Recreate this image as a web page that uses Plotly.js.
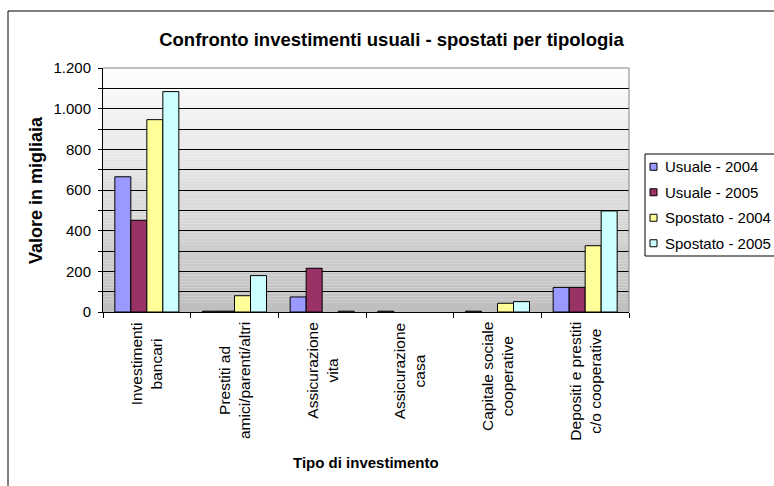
<!DOCTYPE html>
<html>
<head>
<meta charset="utf-8">
<script src="https://cdn.plot.ly/plotly-3.0.1.min.js"></script>
<style>
html,body{margin:0;padding:0;background:#fff;}
#chart{width:774px;height:486px;}
</style>
</head>
<body>
<div id="chart"></div>
<script>
// ---- data ----
const categories = [
  "Investimenti<br>bancari",
  "Prestiti ad<br>amici/parenti/altri",
  "Assicurazione<br>vita",
  "Assicurazione<br>casa",
  "Capitale sociale<br>cooperative",
  "Depositi e prestiti<br>c/o cooperative"
];
const seriesNames = ["Usuale - 2004", "Usuale - 2005", "Spostato - 2004", "Spostato - 2005"];
const usuale2004   = [665, 4, 74, 4, 4, 121];
const usuale2005   = [451, 4, 215, null, null, 121];
const spostato2004 = [946, 80, null, null, 43, 326];
const spostato2005 = [1084, 179, 4, null, 51, 497];
const seriesColors = ["#9999FF", "#993366", "#FFFF99", "#CCFFFF"];
const yTickVals = [0, 200, 400, 600, 800, 1000, 1200];

const titleText = "Confronto investimenti usuali - spostati per tipologia";
const yTitleText = "Valore in migliaia";
const xTitleText = "Tipo di investimento";

// ---- layout helpers ----
const W = 774, H = 486;
const M = {l: 103, r: 145, t: 68, b: 174};
const PW = W - M.l - M.r, PH = H - M.t - M.b;
const px = x => (x - M.l) / PW;          // pixel x -> paper x
const py = y => (H - M.b - y) / PH;      // pixel y -> paper y
const FONT = "Liberation Sans, Arial, Helvetica, sans-serif";

const seriesValues = [usuale2004, usuale2005, spostato2004, spostato2005];
const traces = seriesValues.map((vals, i) => ({
  type: "bar",
  name: seriesNames[i],
  x: categories,
  y: vals,
  marker: {color: seriesColors[i], line: {color: "#000", width: 1}},
  showlegend: false,
  hoverinfo: "x+y+name"
}));

const shapes = [];
// plot-area gradient (white at top to grey at bottom)
const N = 80;
for (let i = 0; i < N; i++) {
  const t = (i + 0.5) / N;               // 0 bottom -> 1 top
  const c = Math.round(190 + (254 - 190) * t);
  shapes.push({
    type: "rect", xref: "x domain", yref: "y domain",
    x0: 0, x1: 1, y0: i / N, y1: (i + 1) / N,
    fillcolor: `rgb(${c},${c},${c})`, line: {width: 0}, layer: "below"
  });
}
// grey plot border top and right
shapes.push({type: "line", xref: "x domain", yref: "y domain", x0: 0, x1: 1, y0: 1, y1: 1,
  line: {color: "#808080", width: 1}, layer: "above"});
shapes.push({type: "line", xref: "x domain", yref: "y domain", x0: 1, x1: 1, y0: 0, y1: 1,
  line: {color: "#808080", width: 1}, layer: "above"});
// outer chart border
shapes.push({type: "rect", xref: "paper", yref: "paper",
  x0: px(8), x1: px(900), y0: py(600), y1: py(11),
  line: {color: "#000", width: 1}, fillcolor: "rgba(0,0,0,0)", layer: "above"});

// manual legend
const legLeft = 645, legTop = 154, legBottom = 256;
shapes.push({type: "rect", xref: "paper", yref: "paper",
  x0: px(legLeft), x1: px(900), y0: py(legBottom), y1: py(legTop),
  line: {color: "#000", width: 1}, fillcolor: "#fff", layer: "above"});
const legRowH = (legBottom - legTop) / seriesNames.length;
const annotations = [];
seriesNames.forEach((nm, i) => {
  const cy = legTop + legRowH * (i + 0.5);
  shapes.push({type: "rect", xref: "paper", yref: "paper",
    x0: px(650), x1: px(657), y0: py(cy + 3.5), y1: py(cy - 3.5),
    fillcolor: seriesColors[i], line: {color: "#000", width: 1}, layer: "above"});
  annotations.push({xref: "paper", yref: "paper", x: px(663), y: py(cy),
    xanchor: "left", yanchor: "middle", showarrow: false, text: nm,
    font: {family: FONT, size: 15, color: "#000"}});
});

// category tick labels (rotated, centred lines)
categories.forEach(c => {
  annotations.push({xref: "x", yref: "paper", x: c, y: 0, yshift: -8,
    xanchor: "center", yanchor: "top", textangle: -90, align: "center",
    showarrow: false, text: c, font: {family: FONT, size: 15.5, color: "#000"}});
});
// axis titles
annotations.push({xref: "paper", yref: "paper", x: px(36), y: 0.5,
  xanchor: "center", yanchor: "middle", textangle: -90, showarrow: false,
  text: "<b>" + yTitleText + "</b>", font: {family: FONT, size: 18, color: "#000"}});
annotations.push({xref: "paper", yref: "paper", x: px(366), y: py(463),
  xanchor: "center", yanchor: "middle", showarrow: false,
  text: "<b>" + xTitleText + "</b>", font: {family: FONT, size: 15, color: "#000"}});

const layout = {
  width: W, height: H,
  margin: M,
  paper_bgcolor: "#fff",
  plot_bgcolor: "rgba(0,0,0,0)",
  separators: ",.",
  barmode: "group",
  bargap: 0.27,
  bargroupgap: 0,
  showlegend: false,
  title: {
    text: "<b>" + titleText + "</b>",
    font: {family: FONT, size: 18.5, color: "#000"},
    xref: "container", yref: "container",
    x: 391.5 / W, y: 1 - 40 / H, xanchor: "center", yanchor: "middle"
  },
  xaxis: {
    type: "category",
    showticklabels: false,
    ticks: "outside", tickson: "boundaries", ticklen: 5, tickcolor: "#000",
    showline: true, linecolor: "#000", linewidth: 1,
    showgrid: false, zeroline: false, fixedrange: true
  },
  yaxis: {
    range: [0, 1200],
    tickvals: yTickVals,
    tickformat: ",",
    ticks: "outside", ticklen: 4, tickcolor: "#000",
    ticklabelstandoff: 4,
    tickfont: {family: FONT, size: 15, color: "#000"},
    showline: true, linecolor: "#000", linewidth: 1,
    showgrid: true, gridcolor: "#000", gridwidth: 1,
    zeroline: false,
    minor: {dtick: 100, tick0: 0, ticks: "outside", ticklen: 4, tickcolor: "#000",
            showgrid: true, gridcolor: "#000", gridwidth: 1},
    fixedrange: true
  },
  shapes: shapes,
  annotations: annotations
};

Plotly.newPlot("chart", traces, layout, {displayModeBar: false, staticPlot: true});
</script>
</body>
</html>
